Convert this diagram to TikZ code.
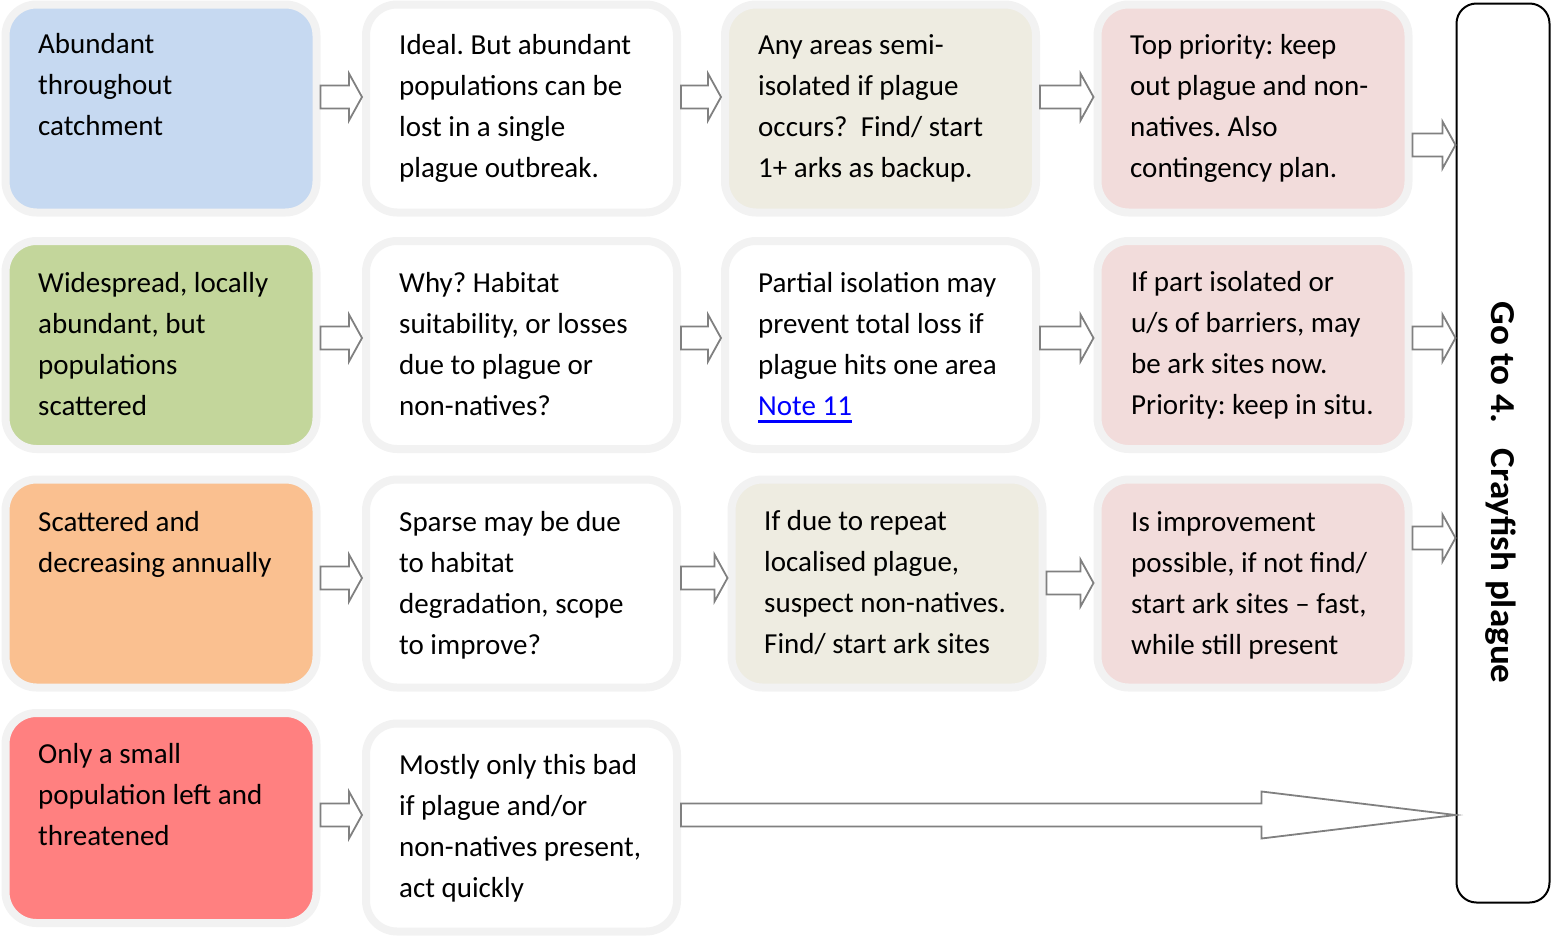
\documentclass[tikz,border=0pt]{standalone}
\usepackage{fontspec}
\setmainfont{Carlito}
\usetikzlibrary{calc}
\frenchspacing

\definecolor{boxrim}{HTML}{F2F2F2}
\definecolor{arrowgray}{HTML}{808080}
\definecolor{blueA}{HTML}{C6D9F1}
\definecolor{greenA}{HTML}{C3D69B}
\definecolor{orangeA}{HTML}{FAC090}
\definecolor{redA}{HTML}{FF8080}
\definecolor{beigeA}{HTML}{EEECE1}
\definecolor{pinkA}{HTML}{F2DCDB}
\definecolor{linkblue}{HTML}{0000FF}

\newcommand{\boxtext}[1]{\parbox[t]{330pt}{#1}}
% underlined hyperlink look
\newcommand{\linktext}[1]{\setbox0=\hbox{#1}\leavevmode
  \rlap{\rule[-7pt]{\wd0}{2.5pt}}\box0}

\tikzset{
  box/.style={draw=boxrim, line width=8pt, rounded corners=31pt,
    minimum width=311pt, minimum height=208pt, inner sep=0pt, fill=white},
  txt/.style={anchor=base west, inner sep=0pt,
    font=\fontsize{29pt}{41.3pt}\selectfont},
  barrow/.style={draw=arrowgray, line width=1.8pt, fill=white,
    to path={
      ($(\tikztostart)+(0,11.5pt)$) -- ($(\tikztotarget)+(-#1,11.5pt)$)
      -- ($(\tikztotarget)+(-#1,23.5pt)$) -- (\tikztotarget)
      -- ($(\tikztotarget)+(-#1,-23.5pt)$) -- ($(\tikztotarget)+(-#1,-11.5pt)$)
      -- ($(\tikztostart)+(0,-11.5pt)$) -- cycle}},
  barrow/.default=13pt,
}

\begin{document}
\begin{tikzpicture}[x=1pt, y=-1pt]
\useasboundingbox (0,0) rectangle (1553,937);

% column 1: status of the population
\node[box, fill=blueA]   (b11) at (161,108.5) {};
\node[box, fill=greenA]  (b21) at (161,345) {};
\node[box, fill=orangeA] (b31) at (161,583.5) {};
\node[box, fill=redA, minimum height=210pt] (b41) at (161,818) {};

% column 2
\node[box] (b12) at (521.5,108.5) {};
\node[box] (b22) at (521.5,345) {};
\node[box] (b32) at (521.5,583.5) {};
\node[box] (b42) at (521.5,827.5) {};

% column 3
\node[box, fill=beigeA] (b13) at (880.5,108.5) {};
\node[box]              (b23) at (880.5,345) {};
\node[box, fill=beigeA] (b33) at (887,583.5) {};

% column 4
\node[box, fill=pinkA] (b14) at (1253,108.5) {};
\node[box, fill=pinkA] (b24) at (1253,345) {};
\node[box, fill=pinkA] (b34) at (1253,583.5) {};

% final target
\node[draw=black, line width=2pt, rounded corners=20pt, minimum width=93pt,
      minimum height=899pt, inner sep=0pt] (goto) at (1503,453) {};
\node[rotate=-90, xscale=1.06, anchor=base, inner sep=0pt,
      font=\bfseries\fontsize{35pt}{40pt}\selectfont] (gotxt) at (1491,492.5)
      {Go to 4.\hspace{0.7em}Crayfish plague};

% texts
\node[txt] (t11) at (38,53)   {\boxtext{Abundant\\throughout\\catchment}};
\node[txt] (t21) at (38,292)  {\boxtext{Widespread, locally\\abundant, but\\populations\\scattered}};
\node[txt] (t31) at (38,531)  {\boxtext{Scattered and\\decreasing annually}};
\node[txt] (t41) at (38,763)  {\boxtext{Only a small\\population left and\\threatened}};

\node[txt] (t12) at (399,54)  {\boxtext{Ideal. But abundant\\populations can be\\lost in a single\\plague outbreak.}};
\node[txt] (t22) at (399,292) {\boxtext{Why? Habitat\\suitability, or losses\\due to plague or\\non-natives?}};
\node[txt] (t32) at (399,531) {\boxtext{Sparse may be due\\to habitat\\degradation, scope\\to improve?}};
\node[txt] (t42) at (399,774) {\boxtext{Mostly only this bad\\if plague and/or\\non-natives present,\\act quickly}};

\node[txt] (t13) at (758,54)  {\boxtext{Any areas semi-\\isolated if plague\\occurs?~ Find/ start\\1+ arks as backup.}};
\node[txt] (t23) at (758,292) {\boxtext{Partial isolation may\\prevent total loss if\\plague hits one area\\\textcolor{linkblue}{\linktext{Note 11}}}};
\node[txt] (t33) at (764,530) {\boxtext{If due to repeat\\localised plague,\\suspect non-natives.\\Find/ start ark sites}};

\node[txt] (t14) at (1130,54)  {\boxtext{Top priority: keep\\out plague and non-\\natives. Also\\contingency plan.}};
\node[txt] (t24) at (1131,291) {\boxtext{If part isolated or\\u/s of barriers, may\\be ark sites now.\\Priority: keep in situ.}};
\node[txt] (t34) at (1131,531) {\boxtext{Is improvement\\possible, if not find/\\start ark sites -- fast,\\while still present}};

% block arrows between the boxes
\draw[barrow] (b11.east |- 0,97)  to (b12.west |- 0,97);
\draw[barrow] (b12.east |- 0,97)  to (b13.west |- 0,97);
\draw[barrow] (b13.east |- 0,97)  to (b14.west |- 0,97);
\draw[barrow] (b14.east |- 0,145) to (goto.west |- 0,145);

\draw[barrow] (b21.east |- 0,338) to (b22.west |- 0,338);
\draw[barrow] (b22.east |- 0,338) to (b23.west |- 0,338);
\draw[barrow] (b23.east |- 0,338) to (b24.west |- 0,338);
\draw[barrow] (b24.east |- 0,338) to (goto.west |- 0,338);

\draw[barrow] (b31.east |- 0,578) to (b32.west |- 0,578);
\draw[barrow] (b32.east |- 0,578) to (b33.west |- 0,578);
\draw[barrow] (b33.east |- 0,583) to (b34.west |- 0,583);
\draw[barrow] (b34.east |- 0,538) to (goto.west |- 0,538);

\draw[barrow] (b41.east |- 0,815) to (b42.west |- 0,815);
\draw[barrow=194pt] (b42.east |- 0,815) to (goto.west |- 0,815);
\end{tikzpicture}
\end{document}
